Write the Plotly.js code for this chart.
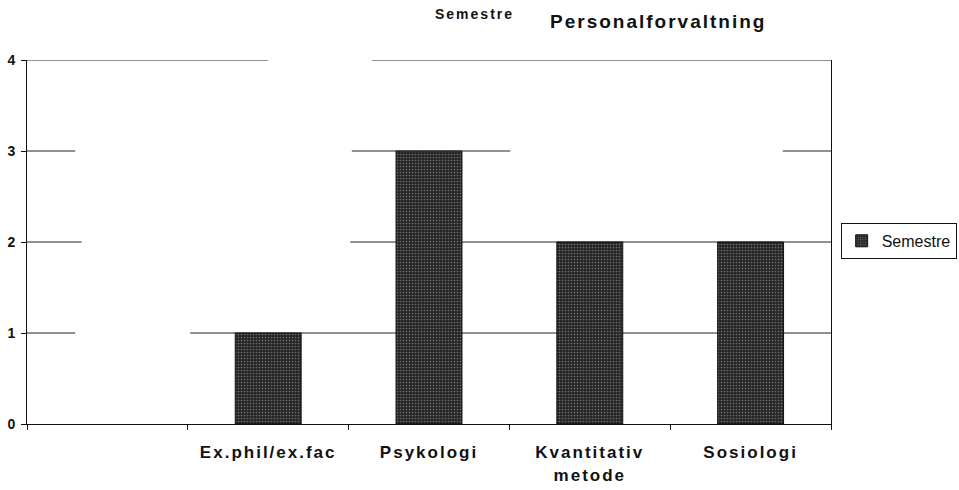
<!DOCTYPE html>
<html>
<head>
<meta charset="utf-8">
<script src="https://cdn.plot.ly/plotly-3.0.1.min.js"></script>
<style>
html,body{margin:0;padding:0;background:#fff;}
#chart{width:959px;height:490px;}
#chart .xtick text{letter-spacing:2px;}
#chart .annotation-text{letter-spacing:2px;}
</style>
</head>
<body>
<div id="chart"></div>
<script>
const categories = [" ", "Ex.phil/ex.fac", "Psykologi", "Kvantitativ<br>metode", "Sosiologi"];
const semestre = [null, 1, 3, 2, 2];
const seriesName = "Semestre";
const yTicks = [0, 1, 2, 3, 4];
const chartTitle = "Personalforvaltning";

// visible pieces of each gridline (paper fractions) as seen in the scan
const gridPieces = {
  4: [[0, 0.30], [0.429, 1]],
  3: [[0, 0.06], [0.404, 0.601], [0.94, 1]],
  2: [[0, 0.068], [0.402, 1]],
  1: [[0, 0.06], [0.203, 1]]
};

const shapes = [];
Object.keys(gridPieces).forEach(function (v) {
  gridPieces[v].forEach(function (seg) {
    shapes.push({type: 'line', xref: 'paper', yref: 'y', x0: seg[0], x1: seg[1], y0: +v, y1: +v,
      line: {color: '#222', width: 1}, layer: 'below'});
  });
});

const font = "Liberation Sans, Arial, Helvetica, sans-serif";

const trace = {
  type: 'bar',
  x: categories,
  y: semestre,
  name: seriesName,
  showlegend: true,
  marker: {
    color: '#262626',
    line: {color: '#111', width: 1},
    pattern: {shape: '.', fgcolor: '#6e6e6e', bgcolor: '#262626', size: 3, solidity: 0.25}
  }
};

const layout = {
  width: 959, height: 490,
  margin: {l: 27, r: 128, t: 60, b: 66, autoexpand: false},
  paper_bgcolor: '#fff', plot_bgcolor: '#fff',
  bargap: 0.59,
  showlegend: true,
  legend: {x: 1.012, xanchor: 'left', y: 0.503, yanchor: 'middle',
    bordercolor: '#111', borderwidth: 1, font: {family: font, size: 16, color: '#111'},
    itemwidth: 30, tracegroupgap: 0},
  xaxis: {type: 'category', tickson: 'boundaries', ticks: 'outside', ticklen: 5, tickcolor: '#111',
    showline: true, linecolor: '#111', linewidth: 1, showgrid: false, fixedrange: true,
    tickfont: {family: font, size: 17, color: '#111', weight: 'bold'}, ticklabelstandoff: 13},
  yaxis: {range: [0, 4], tickvals: yTicks, ticks: 'outside', ticklen: 5, tickcolor: '#111',
    showline: true, mirror: true, linecolor: '#111', linewidth: 1, showgrid: false, zeroline: false,
    tickfont: {family: font, size: 14, color: '#111', weight: 'bold'}, ticklabelstandoff: 3},
  shapes: shapes,
  annotations: [
    {text: chartTitle, xref: 'paper', yref: 'paper', x: (658 - 27) / 804, y: (424 - 22) / 364, xanchor: 'center', yanchor: 'middle',
      showarrow: false, font: {family: font, size: 19, color: '#111', weight: 'bold'}},
    {text: seriesName, xref: 'paper', yref: 'paper', x: (474 - 27) / 804, y: (424 - 14) / 364, xanchor: 'center', yanchor: 'middle',
      showarrow: false, font: {family: font, size: 14, color: '#111', weight: 'bold'}}
  ]
};

Plotly.newPlot('chart', [trace], layout, {displayModeBar: false, staticPlot: true});
</script>
</body>
</html>
